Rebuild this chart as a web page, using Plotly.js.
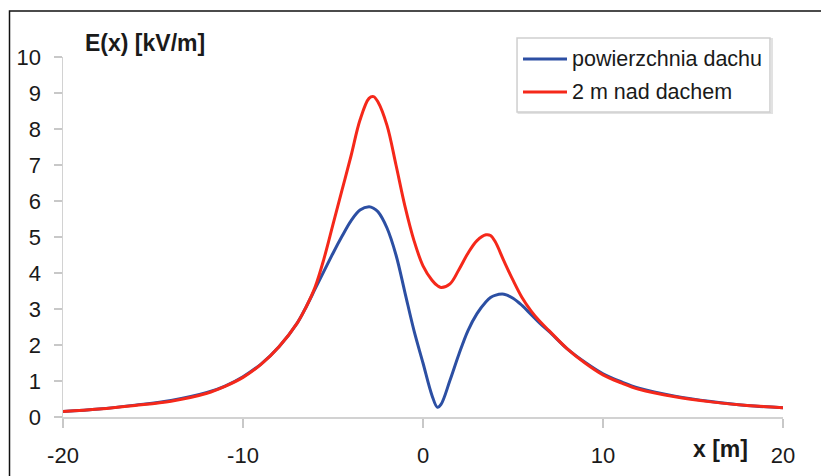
<!DOCTYPE html>
<html>
<head>
<meta charset="utf-8">
<script src="https://cdn.plot.ly/plotly-3.0.1.min.js"></script>
<style>html,body{margin:0;padding:0;background:#fff;}#chart{width:821px;height:476px;}</style>
</head>
<body>
<div id="chart"></div>
<script>
var seriesNames = ["powierzchnia dachu", "2 m nad dachem"];
var seriesColors = ["#2c4fa3", "#f5281a"];

var xValues = [-20,-18,-16,-14,-12,-11,-10,-9,-8,-7,-6.5,-6,-5.5,-5,-4.5,-4,-3.5,-3,-2.75,-2.5,-2,-1.5,-1,-0.5,0,0.5,0.8,1,1.5,2,2.5,3,3.5,3.75,4,4.5,5,5.5,6,6.5,7,8,9,10,11,12,14,16,18,20];

var surfaceValues = [0.15,0.22,0.33,0.46,0.68,0.86,1.12,1.47,1.95,2.6,3.05,3.55,4.05,4.55,5.02,5.45,5.75,5.84,5.8,5.7,5.25,4.5,3.45,2.4,1.5,0.6,0.27,0.35,1.02,1.75,2.4,2.87,3.2,3.32,3.38,3.41,3.3,3.1,2.85,2.6,2.38,1.9,1.52,1.2,0.98,0.8,0.58,0.43,0.32,0.26];

var aboveValues = [0.15,0.22,0.32,0.44,0.66,0.85,1.1,1.46,1.95,2.6,3.05,3.6,4.4,5.35,6.3,7.25,8.25,8.85,8.9,8.75,8.1,7.0,5.85,4.9,4.2,3.8,3.65,3.6,3.7,4.1,4.55,4.9,5.06,5.04,4.88,4.33,3.8,3.32,2.95,2.65,2.4,1.9,1.5,1.17,0.95,0.77,0.56,0.42,0.32,0.26];

var xTicks = [-20,-10,0,10,20];
var yTicks = [0,1,2,3,4,5,6,7,8,9,10];
var yTitle = "E(x) [kV/m]";
var xTitle = "x [m]";

var traces = [surfaceValues, aboveValues].map(function(v, i){
  return {x: xValues, y: v, type: "scatter", mode: "lines", name: seriesNames[i],
    line: {color: seriesColors[i], width: 3, shape: "spline", smoothing: 1}, hoverinfo: "skip"};
});

var txt = "#1a1a1a";
var layout = {
  width: 821, height: 476,
  margin: {l: 63, r: 38, t: 57, b: 59},
  paper_bgcolor: "#fff", plot_bgcolor: "#fff",
  showlegend: false,
  font: {family: "Liberation Sans, Arial, sans-serif", color: txt},
  xaxis: {range: [-20, 20], tickvals: xTicks, ticktext: xTicks.map(String),
    showgrid: false, zeroline: false, showline: true, linecolor: "#d2d2d2", linewidth: 1.5,
    ticks: "outside", ticklen: 9, tickcolor: "#c8c8c8", tickwidth: 1.5,
    tickfont: {size: 22, color: txt}, ticklabelstandoff: 9, fixedrange: true},
  yaxis: {range: [0, 10], tickvals: yTicks, ticktext: yTicks.map(String),
    showgrid: false, zeroline: false, showline: true, linecolor: "#d2d2d2", linewidth: 1.5,
    ticks: "outside", ticklen: 8, tickcolor: "#c8c8c8", tickwidth: 1.5,
    tickfont: {size: 22, color: txt}, ticklabelstandoff: 8, fixedrange: true},
  shapes: [
    {type: "rect", xref: "paper", yref: "paper", x0: -0.0743, x1: 1.08, y0: -0.3, y1: 1.128,
      line: {color: "#111", width: 1.5}, layer: "below"},
    {type: "rect", xref: "paper", yref: "paper", x0: 0.6327, x1: 0.9847, y0: 0.8444, y1: 1.05,
      line: {color: "#e2e2e2", width: 2}, fillcolor: "rgba(0,0,0,0)"},
    {type: "rect", xref: "paper", yref: "paper", x0: 0.6306, x1: 0.9819, y0: 0.8472, y1: 1.0528,
      line: {color: "#cfcfcf", width: 1.5}, fillcolor: "#fff"},
    {type: "line", xref: "paper", yref: "paper", x0: 0.6389, x1: 0.70, y0: 0.9944, y1: 0.9944,
      line: {color: seriesColors[0], width: 3}},
    {type: "line", xref: "paper", yref: "paper", x0: 0.6389, x1: 0.70, y0: 0.9028, y1: 0.9028,
      line: {color: seriesColors[1], width: 3}}
  ],
  annotations: [
    {xref: "paper", yref: "paper", x: 0.0278, y: 1.039, xanchor: "left", yanchor: "middle",
      text: "<b>" + yTitle + "</b>", showarrow: false, font: {size: 23, color: txt}},
    {xref: "paper", yref: "paper", x: 0.8722, y: -0.089, xanchor: "left", yanchor: "middle",
      text: "<b>" + xTitle + "</b>", showarrow: false, font: {size: 23, color: txt}},
    {xref: "paper", yref: "paper", x: 0.7042, y: 0.9944, xanchor: "left", yanchor: "middle",
      text: seriesNames[0], showarrow: false, font: {size: 21.5, color: txt}},
    {xref: "paper", yref: "paper", x: 0.7042, y: 0.9028, xanchor: "left", yanchor: "middle",
      text: seriesNames[1], showarrow: false, font: {size: 21.5, color: txt}}
  ]
};

Plotly.newPlot("chart", traces, layout, {displayModeBar: false, staticPlot: true});
</script>
</body>
</html>
